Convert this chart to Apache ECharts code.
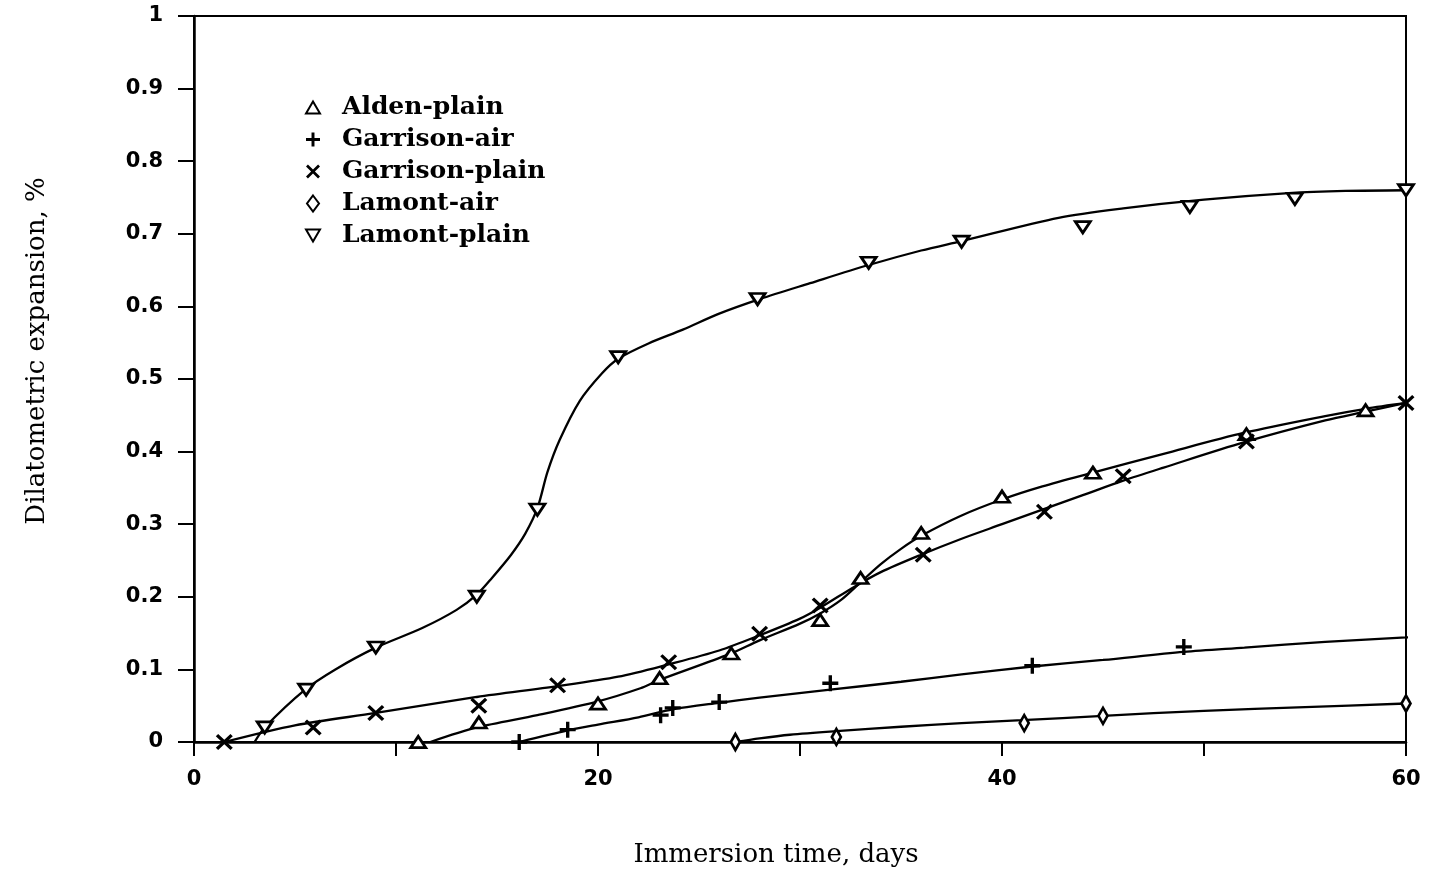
<!DOCTYPE html>
<html><head><meta charset="utf-8">
<script src="https://cdn.jsdelivr.net/npm/echarts@6/dist/echarts.min.js"></script>
<style>html,body{margin:0;padding:0;background:#fff}#c{width:1430px;height:880px}</style>
</head><body><div id="c"></div>
<script>
// ---- data ----
const seriesNames = ['Alden-plain', 'Garrison-air', 'Garrison-plain', 'Lamont-air', 'Lamont-plain'];
const xLabelValues = [0, 20, 40, 60];
const yLabelValues = [0, 0.1, 0.2, 0.3, 0.4, 0.5, 0.6, 0.7, 0.8, 0.9, 1];
const yLabelTexts = ['0', '0.1', '0.2', '0.3', '0.4', '0.5', '0.6', '0.7', '0.8', '0.9', '1'];

// measured points [days, %]
const aldenPlainPts = [[11.1,0],[14.1,0.027],[20,0.053],[23.05,0.088],[26.6,0.122],[31,0.168],[33,0.226],[36,0.288],[40,0.338],[44.5,0.371],[52.1,0.424],[58,0.457]];
const garrisonAirPts = [[16.1,0],[18.5,0.017],[23.1,0.037],[23.7,0.047],[26,0.055],[31.5,0.081],[41.5,0.105],[49,0.131]];
const garrisonPlainPts = [[1.5,0],[5.9,0.02],[9.0,0.04],[14.1,0.05],[18,0.078],[23.5,0.11],[28,0.149],[31,0.188],[36.1,0.258],[42.1,0.317],[46,0.366],[52.1,0.414],[60,0.467]];
const lamontAirPts = [[26.8,0],[31.8,0.007],[41.1,0.026],[45,0.036],[60,0.053]];
const lamontPlainPts = [[3.5,0.02],[5.55,0.072],[9.0,0.13],[14,0.2],[17,0.32],[21,0.53],[27.9,0.61],[33.4,0.66],[38,0.689],[44,0.709],[49.3,0.737],[54.5,0.748],[60,0.76]];

// fitted curves [days, %]
const aldenPlainFit = [[11.7,0],[14,0.02],[17,0.037],[20,0.056],[22.1,0.074],[23,0.085],[26.5,0.121],[28,0.14],[30,0.163],[31,0.177],[32,0.195],[33,0.22],[34,0.245],[35,0.266],[36,0.284],[38,0.312],[40,0.334],[42,0.352],[44.5,0.371],[48,0.397],[52,0.426],[56,0.449],[58,0.459],[60,0.467]];
const garrisonAirFit = [[16.1,0],[18.5,0.016],[20,0.024],[22,0.034],[23.7,0.045],[26,0.054],[28,0.061],[31.5,0.072],[35,0.083],[38,0.093],[41.5,0.104],[45,0.113],[49,0.124],[52,0.13],[56,0.138],[60,0.144],[60.5,0.145]];
const garrisonPlainFit = [[1.5,0],[5,0.023],[9,0.04],[14,0.062],[18,0.077],[21,0.09],[23.5,0.107],[26,0.126],[28,0.147],[30,0.17],[31,0.185],[32.7,0.214],[34,0.234],[36,0.258],[38,0.28],[40,0.3],[42,0.32],[44,0.34],[46,0.36],[48,0.378],[52,0.413],[56,0.443],[58,0.455],[60,0.467]];
const lamontAirFit = [[26.8,0],[28,0.005],[29.5,0.01],[31.8,0.015],[35,0.021],[38,0.026],[41,0.03],[45,0.036],[50,0.043],[55,0.048],[60,0.053]];
const lamontPlainFit = [[3.0,0],[3.5,0.02],[5.5,0.072],[7,0.1],[9,0.13],[11.3,0.157],[13,0.182],[14,0.203],[14.75,0.226],[15.7,0.258],[16.4,0.287],[17,0.322],[17.5,0.372],[18.1,0.416],[19.1,0.47],[20.2,0.508],[21,0.528],[22.5,0.549],[24.2,0.568],[26,0.59],[28,0.61],[30.5,0.632],[33.4,0.657],[36,0.677],[38,0.69],[42.8,0.722],[46,0.735],[50,0.747],[54.2,0.756],[57,0.759],[60,0.76]];

// ---- styles ----
const SYM = {
  tri: 'path://M7.5,0 L15,13 L0,13 Z',
  invTri: 'path://M0,0 L15,0 L7.5,13 Z',
  diamond: 'path://M6,0 L12,8 L6,16 L0,8 Z',
  plus: 'path://M6,0 H9.2 V6 H15.2 V9.2 H9.2 V15.2 H6 V9.2 H0 V6 H6 Z',
  cross: 'path://M0,2.2 L2.2,0 L8,5.8 L13.8,0 L16,2.2 L10.2,8 L16,13.8 L13.8,16 L8,10.2 L2.2,16 L0,13.8 L5.8,8 Z'
};
const markerDefs = [
  {pts: aldenPlainPts, sym: SYM.tri, size: [15, 13], hollow: true},
  {pts: garrisonAirPts, sym: SYM.plus, size: [16, 16], hollow: false},
  {pts: garrisonPlainPts, sym: SYM.cross, size: [17, 16], hollow: false},
  {pts: lamontAirPts, sym: SYM.diamond, size: [12, 16], hollow: true},
  {pts: lamontPlainPts, sym: SYM.invTri, size: [15, 13], hollow: true}
];
const fits = [aldenPlainFit, garrisonAirFit, garrisonPlainFit, lamontAirFit, lamontPlainFit];

const series = [];
fits.forEach((f, i) => {
  series.push({
    name: seriesNames[i] + ' curve', type: 'line', data: f, smooth: 0.3,
    showSymbol: false, symbol: 'none', silent: true, clip: false, z: 2,
    lineStyle: {color: '#000', width: 2.3}
  });
});
markerDefs.forEach((m, i) => {
  series.push({
    name: seriesNames[i], type: 'scatter', data: m.pts, symbol: m.sym, symbolSize: m.size, symbolKeepAspect: true,
    clip: false, z: 5,
    itemStyle: m.hollow ? {color: '#fff', borderColor: '#000', borderWidth: 2.8, opacity: 1}
                        : {color: '#000', borderWidth: 0, opacity: 1}
  });
});

const chart = echarts.init(document.getElementById('c'), null, {renderer: 'canvas'});
chart.setOption({
  animation: false,
  backgroundColor: '#fff',
  grid: {left: 194, right: 24, top: 16, bottom: 138, show: true, borderColor: '#000', borderWidth: 2},
  legend: {
    data: seriesNames.map((n, i) => ({name: n, icon: markerDefs[i].sym})),
    orient: 'vertical', left: 300, top: 90, itemWidth: 14, itemHeight: 16, itemGap: 7,
    selectedMode: false, symbolKeepAspect: true,
    textStyle: {fontFamily: 'DejaVu Serif', fontWeight: 'bold', fontSize: 25, lineHeight: 25, color: '#000', padding: [0, 0, 0, 17]}
  },
  xAxis: {
    type: 'value', min: 0, max: 60, interval: 10,
    name: 'Immersion time, days', nameLocation: 'middle', nameGap: 100,
    nameTextStyle: {fontFamily: 'DejaVu Serif', fontSize: 26, color: '#000', padding: [0, 48, 0, 0]},
    axisLine: {show: true, onZero: false, lineStyle: {color: '#000', width: 2.5}},
    axisTick: {show: true, inside: false, length: 14, lineStyle: {color: '#000', width: 2}},
    axisLabel: {
      margin: 27, color: '#000', fontFamily: 'DejaVu Sans', fontWeight: 'bold', fontSize: 21,
      formatter: v => xLabelValues.indexOf(v) >= 0 ? String(v) : ''
    },
    splitLine: {show: false}
  },
  yAxis: {
    type: 'value', min: 0, max: 1, interval: 0.1,
    name: 'Dilatometric expansion, %', nameLocation: 'middle', nameGap: 144, nameRotate: 90,
    nameTextStyle: {fontFamily: 'DejaVu Serif', fontSize: 26, color: '#000', padding: [0, 0, 0, 56]},
    axisLine: {show: true, lineStyle: {color: '#000', width: 2.5}},
    axisTick: {show: true, inside: false, length: 16, lineStyle: {color: '#000', width: 2}},
    axisLabel: {
      margin: 31, color: '#000', fontFamily: 'DejaVu Sans', fontWeight: 'bold', fontSize: 21,
      formatter: v => {
        const k = yLabelValues.findIndex(t => Math.abs(t - v) < 1e-6);
        return k >= 0 ? yLabelTexts[k] : '';
      }
    },
    splitLine: {show: false}
  },
  series: series
});
</script>
</body></html>
